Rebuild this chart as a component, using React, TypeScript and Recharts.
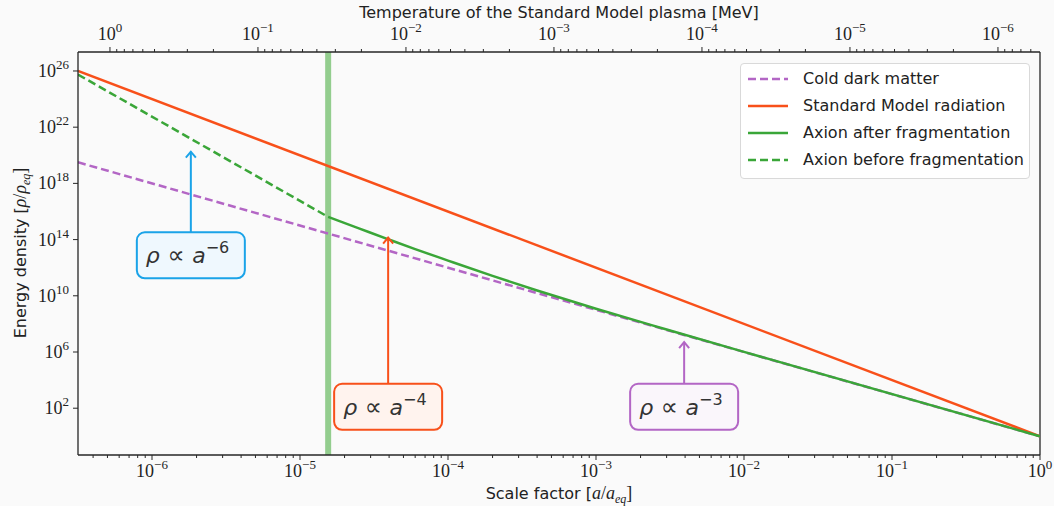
import React from 'react';
import { LineChart, Line, XAxis, YAxis, ReferenceLine, ReferenceDot } from 'recharts';

// series (a / a_eq, rho / rho_eq)
const seriesNames = [
  'Cold dark matter',
  'Standard Model radiation',
  'Axion after fragmentation',
  'Axion before fragmentation',
];

const cdmA = [3.16e-7, 1];
const cdmRho = [3.16e19, 1];

const radA = [3.16e-7, 1];
const radRho = [1e26, 1];

const afterA = [1.55e-5, 2.5e-5, 4e-5, 6e-5, 1e-4, 2e-4, 4e-4, 1e-3, 3e-3, 1e-2, 1];
const afterRho = [4.1e15, 6.3e14, 1e14, 2.1e13, 3.2e12, 2.6e11, 2.4e10, 1.2e9, 4e7, 1.02e6, 1];

const beforeA = [3.16e-7, 1.55e-5];
const beforeRho = [5.6e25, 4.1e15];

const fragA = 1.55e-5;

// tick labels
const xMajor = [1e-6, 1e-5, 1e-4, 1e-3, 1e-2, 1e-1, 1];
const tMajor = [1, 1e-1, 1e-2, 1e-3, 1e-4, 1e-5, 1e-6];
const yMajor = [1e2, 1e6, 1e10, 1e14, 1e18, 1e22, 1e26];

// annotations: slope exponent, x, arrow tip, box centre
const noteExp = [-6, -4, -3];
const noteA = [1.83e-6, 3.94e-5, 3.94e-3];
const noteTip = [1.8e20, 1.4e14, 5.1e6];
const noteBox = [7.6e12, 1.26e2, 1.26e2];

const colors = {
  cdm: '#b366c5',
  rad: '#f8501a',
  axion: '#3aa638',
  band: '#93cd8e',
  spine: '#262626',
};
const noteStroke = ['#1aa3e8', '#f8501a', '#b366c5'];
const noteFill = ['#eff8fe', '#fff3ee', '#faf6fb'];

const XMIN = 10 ** -6.5;
const YMIN = 10 ** -1.33;
const YMAX = 10 ** 27.35;
const TMIN = 10 ** -6.284;
const TMAX = 10 ** 0.216;

const toRows = (xs: number[], ys: number[]) => xs.map((a, i) => ({ a, rho: ys[i] }));

const withMinors = (majors: number[], lo: number, hi: number) => {
  const out: number[] = [];
  majors.concat([majors[0] / 10, majors[0] * 10, majors[majors.length - 1] * 10, majors[majors.length - 1] / 10]).forEach((m) => {
    for (let k = 1; k < 10; k++) {
      const v = m * k;
      if (v >= lo && v <= hi && !out.some((o) => Math.abs(o - v) / v < 1e-9)) out.push(v);
    }
  });
  return out.sort((p, q) => p - q);
};

const isMajor = (v: number) => {
  const l = Math.log10(v);
  return Math.abs(l - Math.round(l)) < 1e-6;
};

const serif = '"Liberation Serif", "DejaVu Serif", serif';
const sans = '"DejaVu Sans", sans-serif';

const Pow = ({ v }: { v: number }) => {
  const e = Math.round(Math.log10(v));
  return (
    <>
      <tspan>10</tspan>
      <tspan dy={-8} fontSize={13}>{e < 0 ? '\u2212' + -e : String(e)}</tspan>
    </>
  );
};

const BottomTick = ({ x, y, payload }: any) => {
  const major = isMajor(payload.value);
  return (
    <g>
      <line x1={x} x2={x} y1={y} y2={y + (major ? 5 : 3)} stroke={colors.spine} strokeWidth={1} />
      {major && (
        <text x={x} y={y + 22} textAnchor="middle" fontFamily={serif} fontSize={18} fill="#222">
          <Pow v={payload.value} />
        </text>
      )}
    </g>
  );
};

const TopTick = ({ x, y, payload }: any) => {
  const major = isMajor(payload.value);
  return (
    <g>
      <line x1={x} x2={x} y1={y} y2={y - (major ? 5 : 3)} stroke={colors.spine} strokeWidth={1} />
      {major && (
        <text x={x} y={y - 12} textAnchor="middle" fontFamily={serif} fontSize={18} fill="#222">
          <Pow v={payload.value} />
        </text>
      )}
    </g>
  );
};

const LeftTick = ({ x, y, payload }: any) => (
  <g>
    <line x1={x} x2={x - 5} y1={y} y2={y} stroke={colors.spine} strokeWidth={1} />
    <text x={x - 9} y={y + 6} textAnchor="end" fontFamily={serif} fontSize={18} fill="#222">
      <Pow v={payload.value} />
    </text>
  </g>
);

const ArrowHead = (color: string) => (props: any) => {
  const { cx, cy } = props;
  return (
    <path
      d={`M${cx - 5},${cy + 6} L${cx},${cy} L${cx + 5},${cy + 6}`}
      fill="none"
      stroke={color}
      strokeWidth={2}
    />
  );
};

const NoteBox = (i: number) => (props: any) => {
  const { cx, cy } = props;
  const e = noteExp[i];
  return (
    <g>
      <rect x={cx - 54} y={cy - 23} width={108} height={46} rx={8} ry={8} fill={noteFill[i]} stroke={noteStroke[i]} strokeWidth={2} />
      <text x={cx - 45} y={cy + 8} fontFamily={sans} fontSize={22} fill="#333">
        <tspan fontStyle="italic">{'\u03c1'}</tspan>
        <tspan fontSize={24}>{' \u221d '}</tspan>
        <tspan fontStyle="italic">a</tspan>
        <tspan dy={-10} fontSize={16}>{'\u2212' + -e}</tspan>
      </text>
    </g>
  );
};

const BottomLabel = ({ viewBox }: any) => (
  <text x={viewBox.x + viewBox.width / 2} y={viewBox.y + 44} textAnchor="middle" fontFamily={sans} fontSize={16} fill="#222">
    <tspan>Scale factor [</tspan>
    <tspan fontFamily={serif} fontStyle="italic" fontSize={18}>a</tspan>
    <tspan fontFamily={serif} fontSize={18}>/</tspan>
    <tspan fontFamily={serif} fontStyle="italic" fontSize={18}>a</tspan>
    <tspan fontFamily={serif} fontStyle="italic" fontSize={12} dy={4}>eq</tspan>
    <tspan fontFamily={serif} fontSize={18} dy={-4}>]</tspan>
  </text>
);

const TopLabel = ({ viewBox }: any) => (
  <text x={viewBox.x + viewBox.width / 2} y={18} textAnchor="middle" fontFamily={sans} fontSize={16} fill="#222">
    Temperature of the Standard Model plasma [MeV]
  </text>
);

const LeftLabel = () => (
  <text x={26} y={253} textAnchor="middle" fontFamily={sans} fontSize={16} fill="#222" transform="rotate(-90 26 253)">
    <tspan>Energy density [</tspan>
    <tspan fontFamily={serif} fontStyle="italic" fontSize={18}>{'\u03c1'}</tspan>
    <tspan fontFamily={serif} fontSize={18}>/</tspan>
    <tspan fontFamily={serif} fontStyle="italic" fontSize={18}>{'\u03c1'}</tspan>
    <tspan fontFamily={serif} fontStyle="italic" fontSize={12} dy={4}>eq</tspan>
    <tspan fontFamily={serif} fontSize={18} dy={-4}>]</tspan>
  </text>
);

const legendItems = [
  { name: seriesNames[0], color: colors.cdm, dash: '8 4' },
  { name: seriesNames[1], color: colors.rad, dash: undefined },
  { name: seriesNames[2], color: colors.axion, dash: undefined },
  { name: seriesNames[3], color: colors.axion, dash: '8 4' },
];

const Legend = () => (
  <div
    style={{
      position: 'absolute',
      left: 740,
      top: 63,
      width: 288,
      height: 114,
      border: '1px solid #d9d9d9',
      borderRadius: 4,
      background: 'rgba(255,255,255,0.85)',
      fontFamily: sans,
      fontSize: 16,
      color: '#222',
    }}
  >
    {legendItems.map((it, i) => (
      <div key={it.name} style={{ position: 'absolute', left: 6, top: 1 + i * 27, height: 27, display: 'flex', alignItems: 'center' }}>
        <svg width={42} height={10} style={{ marginRight: 14 }}>
          <line x1={1} x2={41} y1={5} y2={5} stroke={it.color} strokeWidth={2.5} strokeDasharray={it.dash} />
        </svg>
        <span style={{ whiteSpace: 'nowrap' }}>{it.name}</span>
      </div>
    ))}
  </div>
);

export default function App() {
  const xTicks = withMinors(xMajor, XMIN, 1);
  const tTicks = withMinors(tMajor.slice().reverse(), TMIN, TMAX);

  return (
    <div style={{ position: 'absolute', left: 0, top: 0, width: 1054, height: 506, background: '#fafafa' }}>
      <LineChart width={1054} height={506} margin={{ top: 0, right: 14, bottom: 0, left: 0 }}>
        <XAxis
          dataKey="a"
          type="number"
          scale="log"
          domain={[XMIN, 1]}
          allowDataOverflow
          ticks={xTicks}
          interval={0}
          height={51}
          tickSize={0}
          tickMargin={0}
          tick={<BottomTick />}
          axisLine={{ stroke: colors.spine, strokeWidth: 1.3 }}
          label={<BottomLabel />}
        />
        <XAxis
          xAxisId="top"
          orientation="top"
          dataKey="a"
          type="number"
          scale="log"
          domain={[TMIN, TMAX]}
          reversed
          allowDataOverflow
          ticks={tTicks}
          interval={0}
          height={52}
          tickSize={0}
          tickMargin={0}
          tick={<TopTick />}
          axisLine={{ stroke: colors.spine, strokeWidth: 1.3 }}
          label={<TopLabel />}
        />
        <YAxis
          type="number"
          scale="log"
          domain={[YMIN, YMAX]}
          allowDataOverflow
          ticks={yMajor}
          interval={0}
          width={78}
          tickSize={0}
          tickMargin={0}
          tick={<LeftTick />}
          axisLine={{ stroke: colors.spine, strokeWidth: 1.3 }}
          label={<LeftLabel />}
        />
        <ReferenceLine x={fragA} stroke={colors.band} strokeWidth={6} />
        <ReferenceLine x={1} stroke={colors.spine} strokeWidth={1.3} />

        <Line data={toRows(cdmA, cdmRho)} dataKey="rho" name={seriesNames[0]} stroke={colors.cdm} strokeWidth={2.5} strokeDasharray="8 4" dot={false} isAnimationActive={false} />
        <Line data={toRows(radA, radRho)} dataKey="rho" name={seriesNames[1]} stroke={colors.rad} strokeWidth={2.5} dot={false} isAnimationActive={false} />
        <Line data={toRows(afterA, afterRho)} dataKey="rho" name={seriesNames[2]} type="monotone" stroke={colors.axion} strokeWidth={2.5} dot={false} isAnimationActive={false} />
        <Line data={toRows(beforeA, beforeRho)} dataKey="rho" name={seriesNames[3]} stroke={colors.axion} strokeWidth={2.5} strokeDasharray="8 4" dot={false} isAnimationActive={false} />

        {noteA.map((a, i) => (
          <ReferenceLine
            key={'arr' + i}
            segment={[{ x: a, y: noteBox[i] }, { x: a, y: noteTip[i] }]}
            stroke={noteStroke[i]}
            strokeWidth={2}
          />
        ))}
        {noteA.map((a, i) => (
          <ReferenceDot key={'tip' + i} x={a} y={noteTip[i]} r={1} shape={ArrowHead(noteStroke[i])} />
        ))}
        {noteA.map((a, i) => (
          <ReferenceDot key={'box' + i} x={a} y={noteBox[i]} r={1} shape={NoteBox(i)} />
        ))}
      </LineChart>
      <Legend />
    </div>
  );
}
